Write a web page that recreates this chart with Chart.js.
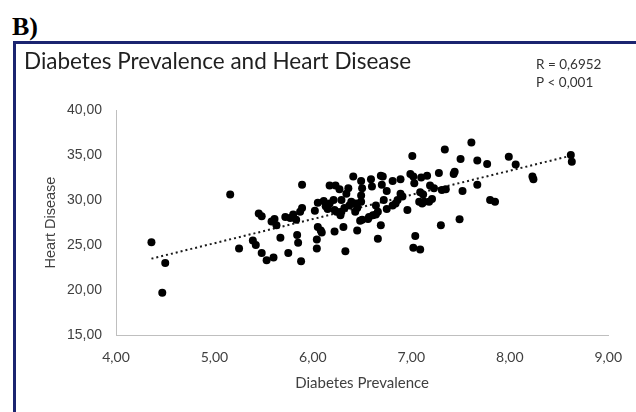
<!DOCTYPE html>
<html>
<head>
<meta charset="utf-8">
<script src="https://cdn.jsdelivr.net/npm/chart.js@4.4.1/dist/chart.umd.min.js"></script>
<style>
    html, body { margin: 0; padding: 0; background: #ffffff; }
    #wrap { position: relative; width: 636px; height: 412px; overflow: hidden; }
    #panel {
        position: absolute; left: 0; top: 12px;
        font: bold 26px 'Liberation Serif', serif; color: #000;
        padding-left: 12px; line-height: 30px;
    }
    #frame {
        position: absolute; left: 13px; top: 41px; width: 660px; height: 420px;
        border: 3px solid #1b2470; box-sizing: border-box;
    }
    #chartBox { position: absolute; left: 0; top: 0; width: 636px; height: 412px; }
</style>
</head>
<body>
<div id="wrap">
    <div id="panel">B)</div>
    <div id="frame"></div>
    <div id="chartBox"><canvas id="scatterChart"></canvas></div>
</div>
<script>
// Data: diabetes prevalence (x) vs heart disease (y)
const diabetes = [
    4.36, 4.50, 4.47, 5.16, 5.25, 5.45, 5.48, 5.39, 5.42, 5.48,
    5.53, 5.60, 5.58, 5.61, 5.63, 5.67, 5.72, 5.75, 5.77, 5.80,
    5.83, 5.84, 5.85, 5.88, 5.89, 5.87, 5.89, 6.02, 6.04, 6.04,
    6.05, 6.08, 6.09, 6.05, 6.11, 6.13, 6.15, 6.17, 6.17, 6.23,
    6.27, 6.21, 6.29, 6.22, 6.24, 6.22, 6.31, 6.33, 6.34, 6.36,
    6.41, 6.28, 6.29, 6.32, 6.37, 6.39, 6.42, 6.45, 6.49, 6.45,
    6.43, 6.48, 6.45, 6.49, 6.50, 6.49, 6.50, 6.56, 6.57, 6.61,
    6.64, 6.59, 6.60, 6.69, 6.71, 6.70, 6.75, 6.64, 6.66, 6.72,
    6.75, 6.81, 6.84, 6.81, 6.89, 6.89, 6.86, 6.91, 6.96, 6.69,
    6.66, 6.99, 7.02, 7.03, 7.01, 7.04, 7.02, 7.09, 7.09, 7.12,
    7.08, 7.11, 7.13, 7.18, 7.21, 7.10, 7.16, 7.19, 7.23, 7.28,
    7.31, 7.35, 7.30, 7.34, 7.43, 7.44, 7.49, 7.50, 7.52, 7.61,
    7.67, 7.67, 7.77, 7.80, 7.85, 7.99, 8.06, 8.23, 8.24, 8.62,
    8.63
];
const heartDisease = [
    25.3, 23.0, 19.7, 30.6, 24.6, 28.5, 28.2, 25.5, 25.0, 24.1,
    23.3, 23.6, 27.6, 27.9, 27.2, 25.8, 28.1, 24.1, 28.0, 28.4,
    27.8, 26.1, 25.25, 23.2, 31.7, 28.7, 29.1, 28.8, 24.6, 25.6,
    27.0, 26.6, 26.4, 29.7, 29.9, 29.3, 29.0, 29.6, 31.6, 31.6,
    31.2, 30.0, 30.0, 28.9, 28.7, 26.5, 27.0, 24.3, 30.7, 31.3,
    32.6, 28.3, 28.7, 29.1, 29.4, 29.8, 29.6, 29.6, 29.8, 29.1,
    28.7, 27.7, 26.6, 30.5, 31.3, 32.1, 27.8, 27.9, 28.1, 28.3,
    28.4, 32.3, 31.5, 32.7, 32.6, 31.7, 31.0, 29.4, 28.7, 30.0,
    29.0, 29.4, 29.6, 32.1, 32.3, 30.7, 30.0, 30.4, 28.9, 27.2,
    25.7, 32.9, 32.6, 31.85, 34.9, 26.0, 24.7, 24.5, 30.85, 30.6,
    29.8, 29.6, 29.8, 29.8, 30.1, 32.5, 32.7, 31.6, 31.3, 33.0,
    31.1, 31.2, 27.2, 35.6, 32.9, 33.15, 27.85, 34.55, 31.0, 36.4,
    34.4, 31.7, 34.0, 30.0, 29.8, 34.8, 33.95, 32.6, 32.3, 35.0,
    34.25
];
const xTicks = [4, 5, 6, 7, 8, 9];
const yTicks = [15, 20, 25, 30, 35, 40];
const chartTitle = 'Diabetes Prevalence and Heart Disease';
const statsLines = ['R = 0,6952', 'P < 0,001'];

// Scatter points
const points = diabetes.map((x, i) => ({ x: x, y: heartDisease[i] }));

// Linear trend line (least squares over the points)
const n = diabetes.length;
const meanX = diabetes.reduce((a, b) => a + b, 0) / n;
const meanY = heartDisease.reduce((a, b) => a + b, 0) / n;
let sxy = 0, sxx = 0;
for (let i = 0; i < n; i++) {
    sxy += (diabetes[i] - meanX) * (heartDisease[i] - meanY);
    sxx += (diabetes[i] - meanX) * (diabetes[i] - meanX);
}
const slope = sxy / sxx;
const intercept = meanY - slope * meanX;
const xMin = Math.min(...diabetes);
const xMax = Math.max(...diabetes);
const trend = [
    { x: xMin, y: intercept + slope * xMin },
    { x: xMax, y: intercept + slope * xMax }
];

const fmt = v => v.toFixed(2).replace('.', ',');

// Title and R / P text drawn on the canvas
const headerText = {
    id: 'headerText',
    afterDraw(chart) {
        const ctx = chart.ctx;
        ctx.save();
        ctx.textBaseline = 'middle';
        ctx.textAlign = 'left';
        ctx.fillStyle = '#1f1f1f';
        ctx.font = "22.5px 'Lato', sans-serif";
        ctx.fillText(chartTitle, 24, 62);
        ctx.fillStyle = '#333333';
        ctx.font = "13.5px 'Lato', sans-serif";
        ctx.fillText(statsLines[0], 536, 65);
        ctx.fillText(statsLines[1], 536, 83);
        ctx.restore();
    }
};

const ctx = document.getElementById('scatterChart');
new Chart(ctx, {
    type: 'scatter',
    data: {
        datasets: [{
            label: 'Points',
            data: points,
            backgroundColor: '#000000',
            borderColor: '#000000',
            pointRadius: 4,
            pointHoverRadius: 4,
            borderWidth: 0
        }, {
            type: 'line',
            label: 'Trend',
            data: trend,
            borderColor: '#1a1a1a',
            borderWidth: 2,
            borderDash: [2, 3],
            pointRadius: 0,
            fill: false
        }]
    },
    options: {
        responsive: true,
        maintainAspectRatio: false,
        animation: false,
        layout: {
            padding: { left: 36, top: 110, right: 23, bottom: 17 }
        },
        plugins: {
            legend: { display: false },
            tooltip: { enabled: false }
        },
        scales: {
            x: {
                type: 'linear',
                min: 4,
                max: 9,
                afterBuildTicks: scale => { scale.ticks = xTicks.map(v => ({ value: v })); },
                afterFit: scale => { scale.height = 60; },
                grid: { display: false, drawTicks: false },
                border: { display: true, color: '#bfbfbf', width: 1 },
                ticks: {
                    padding: 14,
                    color: '#404040',
                    font: { family: "'Lato', sans-serif", size: 14 },
                    callback: v => fmt(v)
                },
                title: {
                    display: true,
                    text: 'Diabetes Prevalence',
                    color: '#404040',
                    font: { family: "'Lato', sans-serif", size: 15 },
                    padding: { top: 0, bottom: 3 }
                }
            },
            y: {
                type: 'linear',
                min: 15,
                max: 40,
                afterBuildTicks: scale => { scale.ticks = yTicks.map(v => ({ value: v })); },
                afterFit: scale => { scale.width = 80; },
                grid: { display: false, drawTicks: false },
                border: { display: true, color: '#bfbfbf', width: 1 },
                ticks: {
                    padding: 14,
                    color: '#404040',
                    font: { family: "'Liberation Sans', Arial, sans-serif", size: 14 },
                    callback: v => fmt(v)
                },
                title: {
                    display: true,
                    text: 'Heart Disease',
                    color: '#404040',
                    font: { family: "'Liberation Sans', Arial, sans-serif", size: 14.5 },
                    padding: { top: 6, bottom: 0 }
                }
            }
        }
    },
    plugins: [headerText]
});
</script>
</body>
</html>
